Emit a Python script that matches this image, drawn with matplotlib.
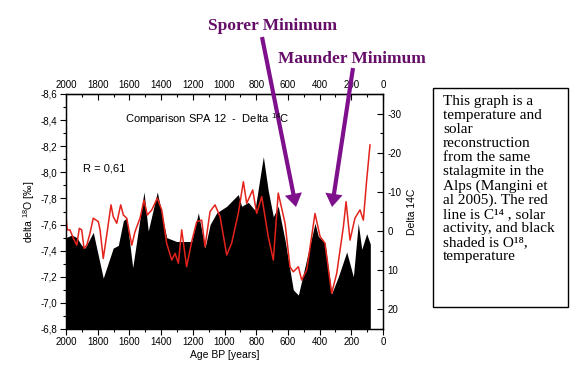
import matplotlib
matplotlib.use('Agg')
import matplotlib.pyplot as plt
from matplotlib.ticker import MultipleLocator, FuncFormatter
from matplotlib.patches import FancyArrowPatch, Rectangle, ArrowStyle

plt.rcParams['font.family'] = ['Liberation Sans', 'DejaVu Sans']
plt.rcParams['axes.unicode_minus'] = False
plt.rcParams['mathtext.fontset'] = 'custom'
plt.rcParams['mathtext.rm'] = 'Liberation Sans'

# ---- data ----
o18_age = [2000, 1964, 1932, 1901, 1880, 1828, 1765, 1702, 1670, 1638, 1617, 1579,
           1508, 1481, 1424, 1365, 1302, 1207, 1165, 1123, 1091, 1049, 986, 913,
           892, 850, 808, 755, 724, 692, 661, 618, 566, 534, 429, 408, 366, 324,
           282, 229, 187, 156, 134, 103, 80]
o18 = [-7.50, -7.52, -7.50, -7.44, -7.42, -7.54, -7.19, -7.42, -7.44, -7.63, -7.65, -7.27,
       -7.85, -7.55, -7.85, -7.50, -7.47, -7.47, -7.69, -7.42, -7.60, -7.69, -7.74, -7.83,
       -7.74, -7.77, -7.71, -8.12, -7.86, -7.66, -7.74, -7.48, -7.10, -7.06, -7.61, -7.51,
       -7.46, -7.07, -7.20, -7.39, -7.20, -7.61, -7.41, -7.53, -7.45]

c14_age = [2000, 1992, 1975, 1954, 1932, 1916, 1901, 1886, 1869, 1849, 1828, 1796, 1785,
           1765, 1743, 1716, 1702, 1680, 1655, 1638, 1617, 1585, 1565, 1533, 1508, 1487,
           1459, 1424, 1396, 1365, 1333, 1312, 1291, 1270, 1239, 1207, 1175, 1144, 1123,
           1091, 1060, 1028, 986, 955, 913, 881, 860, 822, 797, 765, 724, 692, 661, 618,
           587, 566, 534, 513, 481, 429, 397, 366, 324, 292, 250, 233, 208, 177, 145, 124,
           103, 82]
c14 = [-3.7, -0.3, -0.3, 1.8, 3.6, -0.7, -0.3, 4.4, 3.6, 0.6, -3.3, -2.4, -0.3,
       7.0, 1.0, -6.7, -3.7, -2.0, -6.7, -4.1, -3.3, 3.6, 0.2, -3.3, -7.9, -4.1,
       -5.4, -8.4, -5.4, 3.1, 7.4, 5.7, 8.2, -0.3, 9.1, 2.7, -2.4, -2.8, 4.0,
       -5.0, -6.7, -3.7, 6.1, 3.1, -4.5, -12.6, -7.1, -10.5, -4.5, -8.8, 1.4, 7.4, -9.7, -2.0,
       9.1, 10.4, 9.1, 12.5, 9.9, -4.5, 1.4, 3.1, 15.9, 10.8, -1.1, -7.5, 2.3, -3.3, -5.4, -2.8,
       -13.0, -22.0]

x_ticks = [2000, 1800, 1600, 1400, 1200, 1000, 800, 600, 400, 200, 0]

box_lines = ["This graph is a", "temperature and", "solar", "reconstruction",
             "from the same", "stalagmite in the", "Alps (Mangini et",
             "al 2005). The red", "line is C\u00b9\u2074 , solar",
             "activity, and black", "shaded is O\u00b9\u2078,", "temperature"]

# ---- figure ----
W, H = 576, 379
fig = plt.figure(figsize=(W / 100, H / 100), dpi=100)
ax = fig.add_axes([66 / W, 1 - 329 / H, (383 - 66) / W, (329 - 94) / H])

ax.fill_between(o18_age, o18, -6.8, color='black', lw=0)
ax.set_xlim(2000, 0)
ax.set_ylim(-6.8, -8.6)
ax.set_xticks(x_ticks)
ax.xaxis.set_minor_locator(MultipleLocator(100))
ax.yaxis.set_major_locator(MultipleLocator(0.2))
ax.yaxis.set_minor_locator(MultipleLocator(0.1))
ax.yaxis.set_major_formatter(FuncFormatter(lambda v, p: f"{v:.1f}".replace('.', ',')))
ax.tick_params(which='both', direction='out', labelsize=7, width=0.8, pad=2)
ax.tick_params(which='major', length=4)
ax.tick_params(which='minor', length=2)
ax.set_xlabel('Age BP [years]', fontsize=7.5, labelpad=2)
ax.set_ylabel('delta $^{18}$O [\u2030]', fontsize=7.5, labelpad=3)

sec = ax.secondary_xaxis('top')
sec.set_xticks(x_ticks)
sec.xaxis.set_minor_locator(MultipleLocator(100))
sec.tick_params(which='both', direction='in', labelsize=7, width=0.8, pad=3)
sec.tick_params(which='major', length=4)
sec.tick_params(which='minor', length=2)

ax2 = ax.twinx()
ax2.plot(c14_age, c14, color='#e3231b', lw=1.1)
ax2.set_ylim(25, -35)
ax2.yaxis.set_major_locator(MultipleLocator(10))
ax2.yaxis.set_minor_locator(MultipleLocator(5))
ax2.tick_params(which='both', direction='in', labelsize=7, width=0.8, pad=3)
ax2.tick_params(which='major', length=4)
ax2.tick_params(which='minor', length=2)
ax2.set_ylabel('Delta 14C', fontsize=7.5, labelpad=4)

for a in (ax, ax2):
    for s in a.spines.values():
        s.set_linewidth(0.9)

fig.text(125 / W, 1 - 119 / H, 'Comparison SPA 12  -  Delta $^{14}$C', fontsize=8, va='center')
fig.text(83 / W, 1 - 169 / H, 'R = 0,61', fontsize=8, va='center')

purple_txt = '#650d68'
purple = '#7e108c'
fig.text(208 / W, 1 - 26 / H, 'Sporer Minimum', family=['Liberation Serif', 'DejaVu Serif'],
         weight='bold', fontsize=12.5, color=purple_txt, va='center')
fig.text(278 / W, 1 - 59 / H, 'Maunder Minimum', family=['Liberation Serif', 'DejaVu Serif'],
         weight='bold', fontsize=12.5, color=purple_txt, va='center')

style = ArrowStyle('simple', head_length=0.95, head_width=1.25, tail_width=0.3)
for (x0, y0), (x1, y1) in [((262, 37), (296, 207)), ((353, 68), (332, 207))]:
    arr = FancyArrowPatch((x0 / W, 1 - y0 / H), (x1 / W, 1 - y1 / H),
                          transform=fig.transFigure, arrowstyle=style, mutation_scale=10,
                          color=purple, lw=0, shrinkA=0, shrinkB=0)
    fig.add_artist(arr)

fig.add_artist(Rectangle((433 / W, 1 - 307 / H), (568 - 433) / W, (307 - 88) / H,
                         transform=fig.transFigure, fill=False, edgecolor='black', lw=1))
for i, line in enumerate(box_lines):
    fig.text(443 / W, 1 - (105 + i * 14.1) / H, line, family=['Liberation Serif', 'DejaVu Serif'],
             fontsize=11, va='baseline', color='black')

fig.savefig('out.png', dpi=100)
